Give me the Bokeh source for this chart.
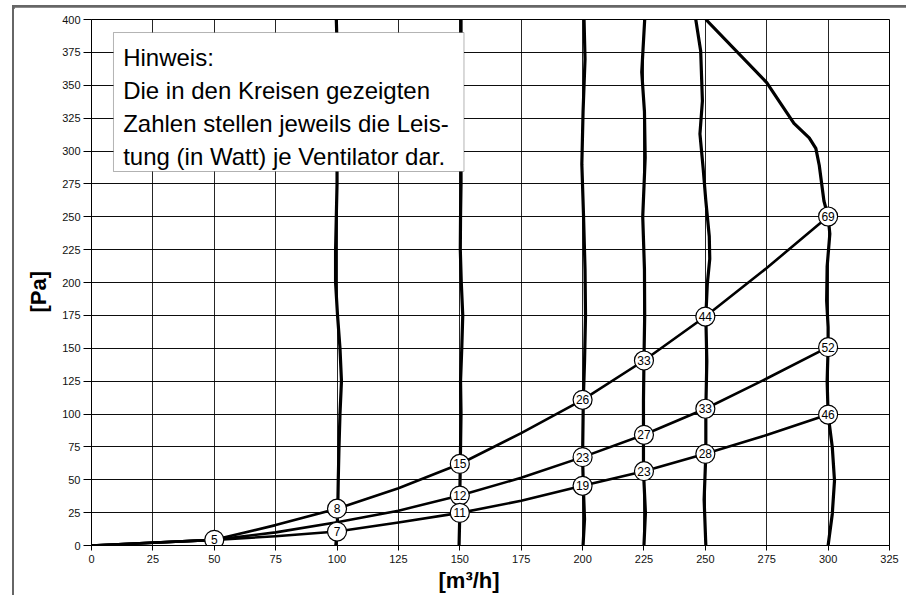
from bokeh.plotting import figure
from bokeh.models import Range1d, FixedTicker, BoxAnnotation, Label, ColumnDataSource, Title
from bokeh.core.properties import value
from bokeh.embed import file_html
from bokeh.resources import INLINE

# ---------------- data ----------------
x_ticks = [0, 25, 50, 75, 100, 125, 150, 175, 200, 225, 250, 275, 300, 325]
y_ticks = [0, 25, 50, 75, 100, 125, 150, 175, 200, 225, 250, 275, 300, 325, 350, 375, 400]

# near-vertical curves (one per nominal flow)
q100_x = [99.5, 100.0, 100.3, 100.5, 100.8, 101.2, 101.8, 101.2, 100.2, 99.4, 99.4, 99.7, 100.0, 100.0, 100.1, 99.7]
q100_y = [0, 10.6, 28, 50, 75, 100, 125, 150, 175, 200, 225, 250, 275, 325, 375, 400]

q150_x = [149.7, 150.0, 150.0, 150.2, 150.5, 150.3, 150.8, 151.2, 150.6, 150.2, 150.3, 150.5, 150.5, 150.5]
q150_y = [0, 24.8, 38, 62, 100, 125, 150, 175, 200, 225, 250, 275, 325, 400]

q200_x = [200.2, 200.8, 200.3, 200.0, 200.3, 200.8, 201.2, 201.0, 200.4, 199.7, 200.2, 201.0, 200.6]
q200_y = [0, 20, 45.4, 67.2, 110.8, 140, 175, 210, 250, 290, 330, 370, 400]

q225_x = [225.0, 225.6, 224.8, 224.8, 224.8, 225.0, 225.3, 225.2, 224.5, 225.5, 225.2, 224.1, 225.3]
q225_y = [0, 25, 56.5, 84.2, 110, 140.7, 175, 210, 250, 295, 330, 360, 400]

q250_x = [250.2, 249.5, 250.2, 250.2, 250.6, 250.2, 250.8, 251.8, 251.6, 250.2, 249.1, 247.8, 248.8, 248.1, 246.1]
q250_y = [0, 35, 69.7, 104, 140, 174.1, 199, 218, 235, 262, 287, 313, 338, 376, 400]

q300_x = [300.0, 301.7, 302.6, 301.7, 300.0, 299.6, 300.0, 300.0, 299.4, 299.6, 300.7, 300.0, 298.3, 296.4, 295.0, 292.3, 286.1, 280.7, 275.0, 250.2]
q300_y = [0, 24, 49.4, 74.8, 99.6, 125, 150.8, 166, 186, 212, 237, 250.2, 262, 289, 302, 310, 321, 336, 352, 400]

# system curves from the origin
sys_high_x = [0, 50, 75, 100, 125, 150, 175, 200, 225, 250, 275, 300]
sys_high_y = [0, 4.3, 15.5, 28, 43.5, 62, 85.5, 110.8, 140.7, 174.1, 211, 250.2]
sys_mid_x = [0, 50, 75, 100, 125, 150, 175, 200, 225, 250, 275, 300]
sys_mid_y = [0, 4.3, 10, 17.7, 26.5, 38, 51.5, 67.2, 84.2, 104, 127, 150.8]
sys_low_x = [0, 50, 75, 100, 125, 150, 175, 200, 225, 250, 275, 300]
sys_low_y = [0, 4.3, 7, 10.6, 17.5, 24.8, 34, 45.4, 56.5, 69.7, 84, 99.6]

# operating points with power (W) per fan
pt_x = [50, 100, 100, 150, 150, 150, 200, 200, 200, 225, 225, 225, 250, 250, 250, 300, 300, 300]
pt_y = [4.3, 28, 10.6, 62, 38, 24.8, 110.8, 67.2, 45.4, 140.7, 84.2, 56.5, 174.1, 104, 69.7, 250.2, 150.8, 99.6]
pt_watt = ["5", "8", "7", "15", "12", "11", "26", "23", "19", "33", "27", "23", "44", "33", "28", "69", "52", "46"]

note_lines = [
    "Hinweis:",
    "Die in den Kreisen gezeigten",
    "Zahlen stellen jeweils die Leis-",
    "tung (in Watt) je Ventilator dar.",
]
x_title = "[m³/h]"
y_title = "[Pa]"

FONT = "Liberation Sans"

# ---------------- figure ----------------
p = figure(
    width=894, height=590,
    x_range=Range1d(0, 325), y_range=Range1d(0, 400),
    output_backend="svg", toolbar_location=None,
    min_border_left=76, min_border_right=19, min_border_top=12, min_border_bottom=52,
    background_fill_color="white", border_fill_color="white",
    outline_line_color="black", outline_line_width=1,
    styles={"margin-left": "12px", "margin-top": "5px",
            "border-left": "2px solid #666666", "border-top": "2px solid #666666",
            "box-shadow": "inset 0px 2px 0px 0px #666666"},
)

p.xaxis.ticker = FixedTicker(ticks=x_ticks)
p.yaxis.ticker = FixedTicker(ticks=y_ticks)
for ax in (p.xaxis, p.yaxis):
    ax.major_label_text_font = FONT
    ax.major_label_text_font_size = "11px"
    ax.major_label_text_color = "#111111"
    ax.axis_line_color = "black"
    ax.major_tick_line_color = "black"
    ax.minor_tick_line_color = None
    ax.major_tick_in = 0
p.xaxis.major_tick_out = 5
p.xaxis.major_label_standoff = 4
p.yaxis.major_tick_out = 8
p.yaxis.major_label_standoff = 3

p.xgrid.grid_line_color = "black"
p.ygrid.grid_line_color = "black"
p.xgrid.grid_line_alpha = 0.85
p.ygrid.grid_line_alpha = 0.95
p.xgrid.grid_line_width = 1
p.ygrid.grid_line_width = 1

# axis titles
p.add_layout(Title(text=x_title, align="left", offset=347, standoff=0,
                   text_font=FONT, text_font_size="22px", text_font_style="bold",
                   text_color="black"), "below")
p.add_layout(Title(text=y_title, align="left", offset=233, standoff=18,
                   text_font=FONT, text_font_size="22px", text_font_style="bold",
                   text_color="black"), "left")

# near-vertical curves
for xs, ys in [(q100_x, q100_y), (q150_x, q150_y), (q200_x, q200_y),
               (q225_x, q225_y), (q250_x, q250_y), (q300_x, q300_y)]:
    p.line(xs, ys, line_color="black", line_width=3.2, line_join="round")

# system curves
for xs, ys in [(sys_high_x, sys_high_y), (sys_mid_x, sys_mid_y), (sys_low_x, sys_low_y)]:
    p.line(xs, ys, line_color="black", line_width=2.6, line_join="round")

src = ColumnDataSource(dict(x=pt_x, y=pt_y, w=pt_watt))
p.scatter("x", "y", source=src, size=19, fill_color="white", line_color="black", line_width=1.2)
p.text("x", "y", text="w", source=src, text_align="center", text_baseline="middle",
       text_font=value(FONT), text_font_size="12px", text_color="black")

# note box
box = BoxAnnotation(left=8.95, right=151.7, bottom=284.4, top=390.1,
                    fill_color="white", fill_alpha=1.0, line_color="black", line_width=1)
p.add_layout(box)
for i, line in enumerate(note_lines):
    p.add_layout(Label(x=12.9, y=370.9 - 25 * i, text=line, text_font=FONT,
                       text_font_size="24px", text_color="black",
                       text_baseline="alphabetic", text_align="left"))

open("out.html", "w").write(file_html(p, INLINE))
